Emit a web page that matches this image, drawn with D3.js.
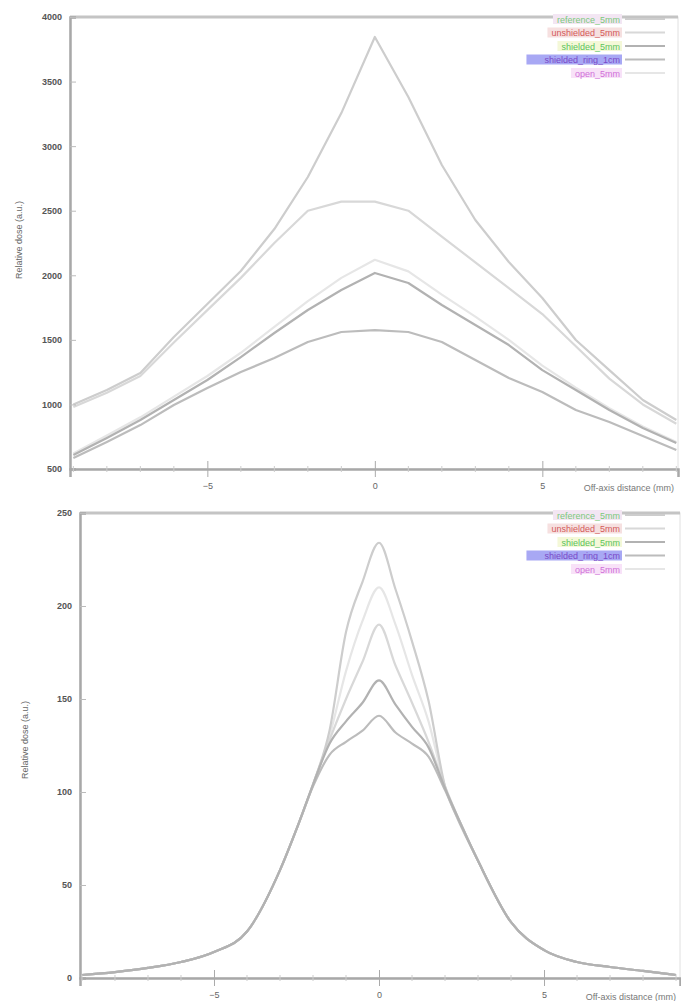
<!DOCTYPE html>
<html><head><meta charset="utf-8">
<script src="https://cdn.jsdelivr.net/npm/d3@7"></script>
<style>
html,body{margin:0;padding:0;background:#fff;}
svg{display:block;font-family:"Liberation Sans",Arial,sans-serif;}
</style></head>
<body>
<svg id="chart" width="681" height="1001"></svg>
<script>
// ---------- data ----------
const xTop = [-9,-8,-7,-6,-5,-4,-3,-2,-1,0,1,2,3,4,5,6,7,8,9];
const topA = [1000,1112,1243,1522,1778,2033,2358,2761,3256,3845,3380,2854,2428,2103,1824,1499,1266,1034,879];
const topB = [980,1090,1220,1480,1730,1980,2250,2500,2570,2570,2500,2300,2100,1900,1700,1450,1200,1000,850];
const topC = [608,740,879,1034,1189,1367,1553,1731,1886,2018,1940,1770,1615,1460,1266,1112,957,817,701];
const topD = [585,709,840,996,1127,1251,1359,1483,1561,1576,1561,1483,1344,1205,1096,957,864,755,647];
const topE = [620,760,900,1060,1220,1400,1600,1800,1980,2120,2030,1850,1680,1500,1300,1130,970,830,710];

const xBot = [-9,-8,-7,-6,-5,-4,-3,-2.5,-2,-1.5,-1,-0.5,0,0.5,1,1.5,2,2.5,3,4,5,6,7,8,9];
const botA = [1.6,3.2,5.4,8.6,14,25,58,80,104,133,186,213,234,209,181,149,103,82,63,30,15,8.6,5.9,3.8,1.6];
const botB = [1.6,3.2,5.4,8.6,14,25,58,80,104,128,150,170,190,168,148,127,103,82,63,30,15,8.6,5.9,3.8,1.6];
const botC = [1.6,3.2,5.4,8.6,14,25,58,80,104,126,138,148,160,147,135,124,102,82,63,30,15,8.6,5.9,3.8,1.6];
const botD = [1.6,3.2,5.4,8.6,14,25,58,80,103,120,127,133,141,132,126,119,101,81,63,30,15,8.6,5.9,3.8,1.6];
const botE = [1.6,3.2,5.4,8.6,14,25,58,80,104,130,165,192,210,190,163,138,103,82,63,30,15,8.6,5.9,3.8,1.6];

const topYTicks = [500,1000,1500,2000,2500,3000,3500,4000];
const botYTicks = [0,50,100,150,200,250];
const xTicks = [-5,0,5];
const legendLabels = ["reference_5mm","unshielded_5mm","shielded_5mm","shielded_ring_1cm","open_5mm"];
const legendColors = ["#7cc97c","#d45a5a","#5cc45c","#7a48c8","#d070d8"];
const legendBg = ["#f3e6f3","#f6e0e0","#f4f8d8","#a8a8f4","#f8e2f8"];
const yTitle = "Relative dose (a.u.)";
const xTitle = "Off-axis distance (mm)";

// ---------- drawing ----------
const svg = d3.select("#chart");
const lineColors = ["#cdcdcd","#d8d8d8","#b2b2b2","#bcbcbc","#e6e6e6"];
const lineOrder = [4,1,0,3,2];

function panel(cfg){
  const g = svg.append("g");
  const x = d3.scaleLinear().domain(cfg.xdom).range([cfg.left, cfg.right]);
  const y = d3.scaleLinear().domain(cfg.ydom).range([cfg.bottom, cfg.top]);

  // frame
  g.append("rect").attr("x",cfg.left).attr("y",cfg.top)
    .attr("width",cfg.right-cfg.left).attr("height",cfg.bottom-cfg.top)
    .attr("fill","none").attr("stroke","#e0e0e0").attr("stroke-width",1);
  g.append("line").attr("x1",cfg.left).attr("x2",cfg.right).attr("y1",cfg.top).attr("y2",cfg.top)
    .attr("stroke","#c4c4c4").attr("stroke-width",3);

  // curves
  const line = d3.line().x((d,i)=>x(cfg.xs[i])).y(d=>y(d)).curve(cfg.curve);
  lineOrder.forEach(k=>{
    g.append("path").datum(cfg.series[k]).attr("d",line)
      .attr("fill","none").attr("stroke",lineColors[k]).attr("stroke-width",2.2)
      .attr("stroke-linejoin","round");
  });

  // y axis
  const ya = d3.axisLeft(y).tickValues(cfg.yticks).tickSize(-6).tickPadding(8).tickFormat(d3.format("d"));
  const yg = g.append("g").attr("transform",`translate(${cfg.left},0)`).call(ya);
  yg.select(".domain").attr("stroke","#a8a8a8").attr("stroke-width",2.5);
  yg.selectAll(".tick line").attr("stroke","#bbb");
  yg.selectAll("text").attr("fill","#555").attr("font-size",9).attr("font-weight","bold");

  // x axis
  const xa = d3.axisBottom(x).tickValues(xTicks).tickSize(8).tickPadding(6).tickFormat(d3.format("d"));
  const xg = g.append("g").attr("transform",`translate(0,${cfg.bottom})`).call(xa);
  xg.select(".domain").attr("stroke","#a8a8a8").attr("stroke-width",2.5);
  xg.selectAll(".tick line").attr("stroke","#aaa").attr("y1",-8);
  xg.selectAll("text").attr("fill","#666").attr("font-size",9);
  const minor = d3.range(-9,10).filter(v=>xTicks.indexOf(v)<0);
  xg.selectAll(".minor").data(minor).join("line").attr("class","minor")
    .attr("x1",d=>x(d)).attr("x2",d=>x(d)).attr("y1",-3).attr("y2",3)
    .attr("stroke","#ccc");

  // titles
  g.append("text").attr("transform",`translate(${cfg.ytx},${cfg.yty}) rotate(-90)`)
    .attr("text-anchor","middle").attr("font-size",9).attr("fill","#666").text(yTitle);
  g.append("text").attr("x",cfg.right-4).attr("y",cfg.bottom+22)
    .attr("text-anchor","end").attr("font-size",9).attr("fill","#777").text(xTitle);

  // legend
  const lg = g.append("g");
  legendLabels.forEach((lab,i)=>{
    const ly = cfg.legY + i*13.5;
    const row = lg.append("g");
    const bg = row.append("rect");
    const t = row.append("text").attr("x",620).attr("y",ly+3.5).attr("text-anchor","end")
      .attr("font-size",9).attr("fill",legendColors[i]).text(lab);
    const bb = t.node().getBBox();
    const pad = i===3 ? 18 : 4;
    bg.attr("x",bb.x-pad).attr("y",ly-5)
      .attr("width",bb.width+pad+2).attr("height",10).attr("fill",legendBg[i]);
    row.append("line").attr("x1",625).attr("x2",665).attr("y1",ly).attr("y2",ly)
      .attr("stroke",lineColors[i]).attr("stroke-width",2);
  });
}

panel({left:70,right:678,top:17,bottom:469,xdom:[-9.1,9.05],ydom:[500,4000],curve:d3.curveLinear,
  xs:xTop,series:[topA,topB,topC,topD,topE],yticks:topYTicks,ytx:22,yty:240,legY:19});
panel({left:80,right:680,top:513,bottom:978,xdom:[-9.06,9.12],ydom:[0,250],curve:d3.curveMonotoneX,
  xs:xBot,series:[botA,botB,botC,botD,botE],yticks:botYTicks,ytx:28,yty:740,legY:515});
</script>
</body></html>
